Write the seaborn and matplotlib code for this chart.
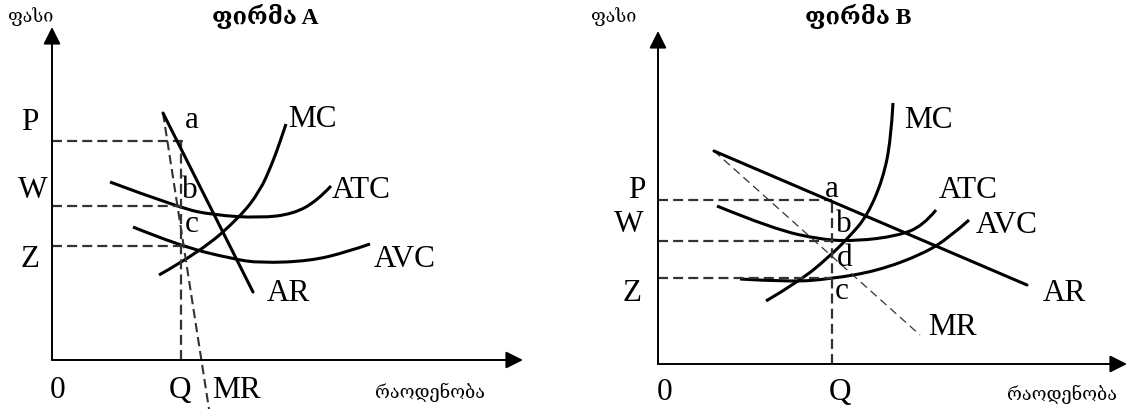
import numpy as np
import seaborn as sns
import matplotlib.pyplot as plt
from matplotlib.path import Path
from matplotlib.patches import PathPatch

sns.set_style("white")
plt.rcParams['font.family'] = ['Liberation Serif', 'DejaVu Serif', 'DejaVu Sans']

# ---- data (quantity, price) ----
# firm A
a_ar_q = [111, 201]
a_ar_p = [247, 68]
a_mr_q = [111, 157]
a_mr_p = [247, -49]
a_mc_q = [107, 148, 188, 208, 220, 228, 234]
a_mc_p = [85, 108, 143, 169, 196, 218, 236]
a_atc_q = [58, 128, 161, 208, 241, 265, 279]
a_atc_p = [178, 152, 145, 142, 146, 159, 174]
a_avc_q = [81, 128, 181, 208, 258, 295, 318]
a_avc_p = [133, 114, 101, 97, 99, 108, 116]
a_levels = {'P': 219, 'W': 154, 'Z': 114}
a_q = 129

# firm B
b_ar_q = [56, 369]
b_ar_p = [213, 79]
b_mr_q = [56, 262]
b_mr_p = [213, 29]
b_mc_q = [108, 142, 172, 192, 209, 225, 233, 235]
b_mc_p = [63, 83, 108, 128, 148, 185, 225, 261]
b_atc_q = [59, 115, 165, 199, 239, 265, 278]
b_atc_p = [158, 135, 124, 123, 128, 138, 154]
b_avc_q = [82, 132, 172, 219, 265, 292, 311]
b_avc_p = [85, 82, 85, 93, 110, 127, 144]
b_levels = {'P': 164, 'W': 123, 'Z': 86}
b_q = 174

DASH = '#333333'
DASH_LS = (0, (4.5, 2.3))


def smooth_path(xs, ys):
    pts = np.column_stack([xs, ys]).astype(float)
    verts = [pts[0]]
    codes = [Path.MOVETO]
    for i in range(1, len(pts) - 1):
        end = pts[i + 1] if i == len(pts) - 2 else (pts[i] + pts[i + 1]) / 2
        verts += [pts[i], end]
        codes += [Path.CURVE3, Path.CURVE3]
    return Path(verts, codes)


def curve(ax, q, p):
    ax.add_patch(PathPatch(smooth_path(q, p), fill=False, lw=2.2,
                           edgecolor='black', capstyle='butt'))


def line(ax, q, p, **kw):
    sns.lineplot(x=q, y=p, ax=ax, estimator=None, sort=False, **kw)


def axes_arrows(ax, xtip, ytip):
    style = dict(arrowstyle='-|>,head_length=0.8,head_width=0.4',
                 lw=1.4, color='black', mutation_scale=13,
                 shrinkA=0, shrinkB=0)
    ax.annotate('', xy=(xtip, 0), xytext=(0, 0), arrowprops=style)
    ax.annotate('', xy=(0, ytip), xytext=(0, 0), arrowprops=style)


def guides(ax, levels, q, ends):
    for lev, end in zip(levels.values(), ends):
        line(ax, [0, end], [lev, lev], color=DASH, lw=1.6, linestyle=DASH_LS)
    line(ax, [q, q], [0, max(levels.values())], color=DASH, lw=1.6,
         linestyle=DASH_LS)


fig = plt.figure(figsize=(11.29, 4.10), dpi=100)
axA = fig.add_axes([0, 0, 565 / 1129, 1])
axB = fig.add_axes([565 / 1129, 0, 564 / 1129, 1])
axA.set_xlim(-52, 513)
axA.set_ylim(-49, 361)
axB.set_xlim(-93, 471)
axB.set_ylim(-45, 365)
for ax in (axA, axB):
    ax.set_axis_off()

FS = 22.5
txt = dict(fontsize=FS, ha='center', va='baseline', color='black')
small = dict(fontsize=13, ha='center', va='baseline', color='black')
title = dict(fontsize=17, ha='center', va='baseline', color='black',
             fontweight='bold')

# ---- firm A ----
guides(axA, a_levels, a_q, [131, a_q, a_q])
line(axA, a_mr_q, a_mr_p, color=DASH, lw=1.5, linestyle=DASH_LS)
line(axA, a_ar_q, a_ar_p, color='black', lw=2.2)
curve(axA, a_mc_q, a_mc_p)
curve(axA, a_atc_q, a_atc_p)
curve(axA, a_avc_q, a_avc_p)
axes_arrows(axA, 471, 333)

for s, (x, y) in {'P': (-22, 231), 'W': (-19, 163), 'Z': (-22, 94),
                  '0': (6, -37), 'Q': (128, -37), 'MR': (184, -37),
                  'a': (140, 233), 'b': (138, 163), 'c': (140, 129),
                  'MC': (260, 234), 'ATC': (309, 163), 'AVC': (353, 94),
                  'AR': (236, 60)}.items():
    axA.text(x, y, s, **txt)
axA.text(378, -37, 'რაოდენობა', **small)
axA.text(-21, 339, 'ფასი', **small)
axA.text(213, 337, 'ფირმა A', **title)

# ---- firm B ----
guides(axB, b_levels, b_q, [b_q, b_q, b_q])
line(axB, b_mr_q, b_mr_p, color=DASH, lw=0.9, linestyle=(0, (6.5, 4)))
line(axB, b_ar_q, b_ar_p, color='black', lw=2.2)
curve(axB, b_mc_q, b_mc_p)
curve(axB, b_atc_q, b_atc_p)
curve(axB, b_avc_q, b_avc_p)
axes_arrows(axB, 469, 333)

for s, (x, y) in {'P': (-21, 167), 'W': (-29, 133), 'Z': (-26, 64),
                  '0': (7, -35), 'Q': (182, -35),
                  'a': (174, 168), 'b': (186, 133), 'd': (187, 99),
                  'c': (184, 66), 'MC': (270, 237), 'ATC': (310, 167),
                  'AVC': (349, 132), 'AR': (406, 64), 'MR': (294, 30)}.items():
    axB.text(x, y, s, **txt)
axB.text(404, -35, 'რაოდენობა', **small)
axB.text(-44, 343, 'ფასი', **small)
axB.text(200, 341, 'ფირმა B', **title)

fig.savefig('out.png', dpi=100, facecolor='white')
